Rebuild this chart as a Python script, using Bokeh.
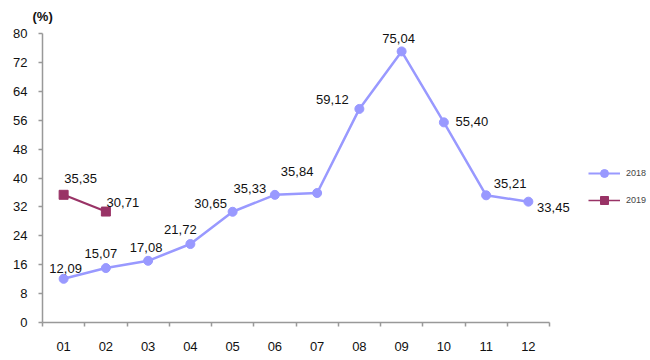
from bokeh.plotting import figure
from bokeh.models import (Range1d, FixedTicker, ColumnDataSource, LabelSet,
                          Legend, LegendItem)
from bokeh.core.properties import value
from bokeh.embed import file_html
from bokeh.resources import INLINE

months = ["01", "02", "03", "04", "05", "06", "07", "08", "09", "10", "11", "12"]
values_2018 = [12.09, 15.07, 17.08, 21.72, 30.65, 35.33, 35.84, 59.12, 75.04, 55.40, 35.21, 33.45]
values_2019 = [35.35, 30.71]
y_ticks = [0, 8, 16, 24, 32, 40, 48, 56, 64, 72, 80]

# label placement (pixel offsets from points)
dx_2018 = [2, -5, -2, -10, -22, -25, -20, -27, -3, 28, 24, 25]
dy_2018 = [10, 15, 13, 15, 8, 6, 22, 9, 13, 1, 12, -6]
dx_2019 = [17, 17]
dy_2019 = [16, 9]

C18 = "#9999FF"
C19 = "#993366"
FONT = "Liberation Sans"

def fmt(v):
    return f"{v:.2f}".replace(".", ",")

xs18 = [i + 0.5 for i in range(len(values_2018))]
xs19 = [i + 0.5 for i in range(len(values_2019))]

src18 = ColumnDataSource(dict(x=xs18, y=values_2018, t=[fmt(v) for v in values_2018],
                              dx=dx_2018, dy=dy_2018))
src19 = ColumnDataSource(dict(x=xs19, y=values_2019, t=[fmt(v) for v in values_2019],
                              dx=dx_2019, dy=dy_2019))

W, H = 650, 360
left, right, top, bottom = 42, 0, 28, 38
px_per_x = 507 / 12
px_per_y = 289 / 80
x_end = (W - left - right) / px_per_x
y_end = (H - top - bottom) / px_per_y

p = figure(width=W, height=H, output_backend="svg", toolbar_location=None,
           x_range=Range1d(0, x_end), y_range=Range1d(0, y_end),
           min_border_left=left, min_border_right=right, min_border_top=top,
           min_border_bottom=bottom)
p.outline_line_color = None
p.grid.visible = False
p.background_fill_color = "white"
p.border_fill_color = "white"

p.title.text = "(%)"
p.title.align = "left"
p.title.offset = -10
p.title.standoff = 9
p.title.text_font = FONT
p.title.text_font_size = "13px"
p.title.text_font_style = "bold"
p.title.text_color = "#111111"

# axes
p.xaxis.ticker = FixedTicker(ticks=xs18, minor_ticks=list(range(0, 13)))
p.xaxis.major_label_overrides = {x: m for x, m in zip(xs18, months)}
p.xaxis.bounds = (0, 12)
p.xaxis.major_tick_out = 0
p.xaxis.major_tick_in = 0
p.xaxis.minor_tick_out = 4
p.xaxis.minor_tick_in = 0
p.xaxis.major_label_standoff = 15
p.yaxis.ticker = FixedTicker(ticks=y_ticks, minor_ticks=[])
p.yaxis.bounds = (0, 80)
p.yaxis.major_tick_out = 4
p.yaxis.major_tick_in = 0
p.yaxis.major_label_standoff = 11
for ax in (p.xaxis, p.yaxis):
    ax.axis_line_color = "#999999"
    ax.axis_line_width = 1.5
    ax.major_tick_line_color = "#999999"
    ax.minor_tick_line_color = "#999999"
    ax.major_tick_line_width = 1.5
    ax.minor_tick_line_width = 1.5
    ax.major_label_text_font = FONT
    ax.major_label_text_font_size = "13px"
    ax.major_label_text_color = "#111111"

p.line("x", "y", source=src18, line_color=C18, line_width=2.5)
p.scatter("x", "y", source=src18, marker="circle", size=9, fill_color=C18, line_color=C18)
p.line("x", "y", source=src19, line_color=C19, line_width=2.2)
p.scatter("x", "y", source=src19, marker="square", size=9, fill_color=C19, line_color=C19)

for src in (src18, src19):
    p.add_layout(LabelSet(x="x", y="y", text="t", source=src, x_offset="dx", y_offset="dy",
                          text_align="center", text_baseline="middle",
                          text_font=value(FONT), text_font_size="13px", text_color="#111111"))

# legend-only glyphs (smaller markers; a single NaN point draws nothing on the plot)
nan = float("nan")
leg_src = ColumnDataSource(dict(x=[nan], y=[nan]))
lg18l = p.line("x", "y", source=leg_src, line_color=C18, line_width=1.8)
lg18m = p.scatter("x", "y", source=leg_src, marker="circle", size=6, fill_color=C18, line_color=C18)
lg19l = p.line("x", "y", source=leg_src, line_color=C19, line_width=1.5)
lg19m = p.scatter("x", "y", source=leg_src, marker="square", size=6, fill_color=C19, line_color=C19)

legend = Legend(items=[LegendItem(label="2018", renderers=[lg18l, lg18m]),
                       LegendItem(label="2019", renderers=[lg19l, lg19m])],
                location=(546, 112), orientation="vertical",
                padding=0, margin=0, spacing=7, glyph_width=32, glyph_height=20,
                label_height=20, label_standoff=6,
                label_text_font=FONT, label_text_font_size="9px",
                border_line_color=None, background_fill_alpha=0)
p.add_layout(legend)

open("out.html", "w").write(file_html(p, INLINE))
